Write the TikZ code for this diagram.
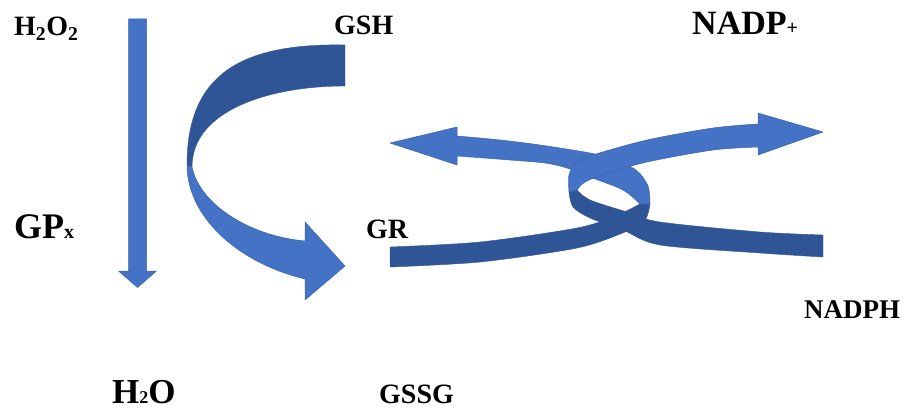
\documentclass[tikz,border=0pt]{standalone}
\usepackage{fontspec}
\setmainfont{Liberation Serif}
\definecolor{ribLight}{HTML}{4472C4}
\definecolor{ribDark}{HTML}{2F5597}
\definecolor{ribEdge}{HTML}{3A64B0}
\begin{document}
\begin{tikzpicture}[x=1pt,y=-1pt,
  lightpart/.style={fill=ribLight, draw=ribEdge, line width=0.5pt, line join=round},
  darkpart/.style={fill=ribDark, draw=ribDark, line width=0.4pt, line join=round},
  lbl/.style={inner sep=0pt, anchor=base west, text=black, font=\bfseries}]
\useasboundingbox (0,0) rectangle (911,412);
\fill[white] (0,0) rectangle (911,412);

% straight down arrow
\draw[lightpart] (128.5,19) -- (146.5,19) -- (146.5,271) -- (156.5,271) -- (137.5,287.5)
  -- (118.5,271) -- (128.5,271) -- cycle;

% curved arrow GSH -> GSSG : dark back part
\draw[darkpart] (345,45) .. controls (240,43) and (187,75) .. (187,165)
  -- (192,167) .. controls (192,110) and (270,86) .. (345,86) -- cycle;
% light front part with head
\draw[lightpart] (187,165) .. controls (187,215) and (235,262) .. (305,279)
  -- (305,300) -- (345,266) -- (305,222) -- (305,241)
  .. controls (250,236) and (200,205) .. (192,167) -- cycle;

% ribbon B dark (from NADPH)
\draw[darkpart] plot[smooth] coordinates {(823,257) (760,253) (660,245) (623,230) (590,218) (573,207) (569,192)}
  -- plot[smooth] coordinates {(577,190) (590,200) (627,212) (660,222) (760,232) (823,235)} -- cycle;
% ribbon A dark (from GR)
\draw[darkpart] plot[smooth] coordinates {(390,247) (480,242) (577,228) (615,216) (640,204)}
  -- plot[smooth] coordinates {(650,204) (645,220) (625,232) (577,248) (480,262) (390,267)} -- cycle;
% ribbon A light (to left arrow)
\draw[lightpart] plot[smooth] coordinates {(650,204) (648,186) (636,170) (612,159) (590,153) (540,145) (500,140) (457,136)}
  -- (457,127) -- (390,143) -- (457,165) -- (457,156)
  -- plot[smooth] coordinates {(457,156) (510,160) (545,163) (567,168) (590,177) (623,190) (640,204)} -- cycle;
% ribbon B light (to right arrow)
\draw[lightpart] plot[smooth] coordinates {(569,192) (569,175) (576,163) (593,155) (647,140) (713,128) (758,124)}
  -- (758,113) -- (823,132) -- (758,155) -- (758,147)
  -- plot[smooth] coordinates {(758,147) (713,150) (647,162) (605,174) (585,182) (577,190)} -- cycle;

% labels
\node[lbl, font=\bfseries\fontsize{28}{30}\selectfont] (h2o2) at (14,36) {H\textsubscript{2}O\textsubscript{2}};
\node[lbl, font=\bfseries\fontsize{28}{30}\selectfont] (gsh) at (334,35) {GSH};
\node[lbl, font=\bfseries\fontsize{36}{38}\selectfont] (gpx) at (14,238) {GP{\fontsize{20}{22}\selectfont x}};
\node[lbl, font=\bfseries\fontsize{28}{30}\selectfont] (gr) at (366,238) {GR};
\node[lbl, font=\bfseries\fontsize{35}{37}\selectfont] (h2o) at (112,403) {H{\fontsize{18}{20}\selectfont 2}O};
\node[lbl, font=\bfseries\fontsize{28}{30}\selectfont] (gssg) at (379,403) {GSSG};
\node[lbl, font=\bfseries\fontsize{34}{36}\selectfont] (nadp) at (692,35) {NADP{\fontsize{20}{22}\selectfont +}};
\node[lbl, font=\bfseries\fontsize{27}{29}\selectfont] (nadph) at (804,318) {NADPH};
\end{tikzpicture}
\end{document}
